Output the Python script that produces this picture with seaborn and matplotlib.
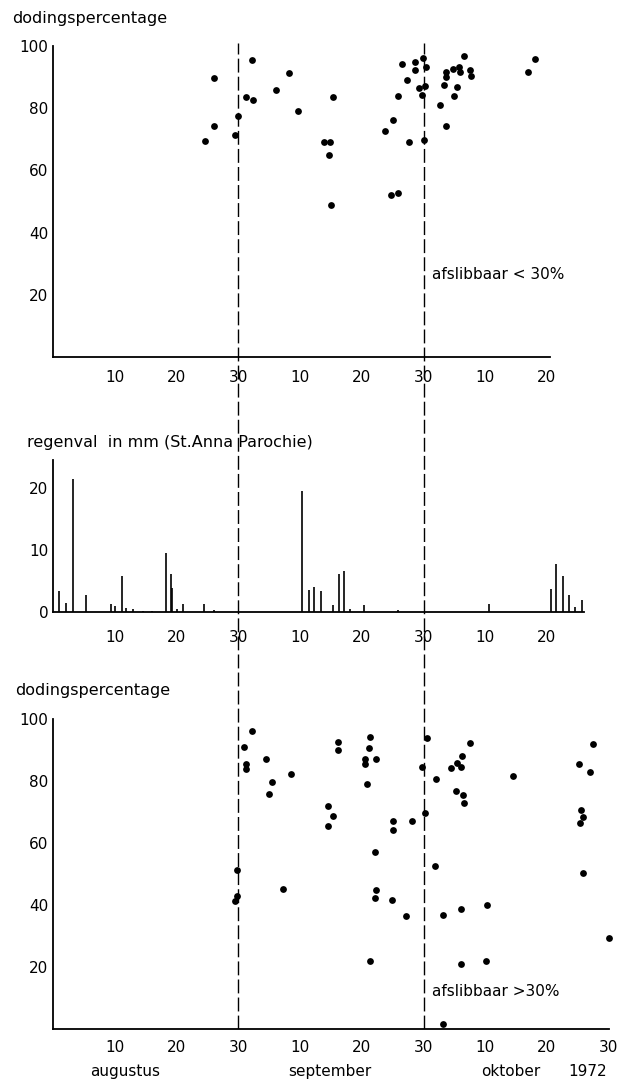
import matplotlib
matplotlib.use("Agg")
import matplotlib.pyplot as plt
import seaborn as sns
import pandas as pd

# x = dag-index: augustus d -> d, september d -> 30 + d, oktober d -> 60 + d
# bovenste paneel: afslibbaar < 30%
top_x = [24.6, 26.0, 26.1, 29.5, 29.9, 31.2, 32.3, 32.4, 36.1, 38.2, 39.6,
         45.4, 43.9, 44.9, 44.7, 45.0, 53.7, 55.0, 54.8, 55.9, 55.8, 56.5,
         57.4, 57.6, 58.6, 58.6, 59.2, 59.9, 59.8, 60.2, 60.4, 60.1, 62.6,
         63.6, 63.6, 63.6, 63.4, 64.7, 65.0, 65.5, 65.7, 65.9, 66.5, 67.6,
         67.7, 77.0, 78.1]
top_y = [69.4, 89.6, 74.4, 71.4, 77.4, 83.6, 95.5, 82.5, 86.0, 91.4, 79.2,
         83.7, 69.0, 69.0, 65.0, 49.0, 72.6, 76.3, 52.2, 52.6, 83.8, 94.1,
         89.2, 69.2, 94.7, 92.3, 86.6, 96.2, 84.2, 87.1, 93.3, 69.8, 81.0,
         74.3, 91.7, 89.9, 87.3, 92.5, 83.9, 86.9, 93.3, 91.7, 96.8, 92.3,
         90.4, 91.7, 95.8]

# middelste paneel: regenval in mm (St. Anna Parochie)
rain_x = [1.0, 2.05, 3.2, 5.3, 9.4, 10.0, 11.2, 11.8, 13.0, 14.5, 16.0,
          18.3, 19.1, 19.3, 20.0, 21.1, 24.5, 26.1,
          40.4, 41.4, 42.2, 43.4, 45.3, 46.3, 47.2, 48.1, 50.3, 55.9,
          70.6, 80.6, 81.5, 82.6, 83.6, 84.5, 85.7]
rain_mm = [3.4, 1.45, 21.5, 2.8, 1.3, 1.0, 5.9, 0.7, 0.5, 0.2, 0.2,
           9.6, 6.1, 3.9, 0.5, 1.4, 1.3, 0.3,
           19.5, 3.6, 4.1, 3.4, 1.1, 6.1, 6.7, 0.6, 1.2, 0.3,
           1.3, 3.8, 7.8, 5.9, 2.8, 0.8, 1.9]

# onderste paneel: afslibbaar > 30%
bot_x = [29.4, 29.8, 29.8, 31.0, 31.2, 31.2, 32.2, 34.5, 35.4, 35.0, 37.2,
         38.5, 44.6, 45.4, 44.5, 46.2, 46.2, 51.3, 51.1, 50.6, 50.6, 52.3,
         50.8, 52.1, 52.3, 52.1, 51.4, 55.0, 55.1, 54.9, 57.1, 58.1, 59.8,
         60.2, 60.6, 62.1, 61.8, 63.2, 63.1, 64.5, 65.5, 66.1, 66.3, 67.5,
         65.2, 66.4, 66.6, 66.1, 66.0, 70.3, 70.1, 74.5, 85.2, 85.5, 85.9,
         85.4, 85.9, 87.0, 87.4, 90.1]
bot_y = [41.3, 42.9, 51.1, 90.9, 85.6, 83.9, 96.2, 87.0, 79.6, 75.8, 45.0,
         82.3, 71.8, 68.5, 65.3, 92.6, 90.1, 94.2, 90.5, 87.1, 85.6, 87.1,
         79.0, 56.9, 44.8, 42.1, 21.8, 66.9, 64.2, 41.6, 36.4, 67.0, 84.5,
         69.6, 93.9, 80.7, 52.6, 36.6, 1.5, 84.2, 85.8, 84.4, 88.0, 92.1,
         76.8, 75.6, 73.0, 38.6, 20.8, 39.9, 21.8, 81.7, 85.6, 70.6, 68.4,
         66.3, 50.3, 82.8, 92.0, 29.1]

day_ticks = [10, 20, 30, 40, 50, 60, 70, 80, 90]
day_labels = ['10', '20', '30', '10', '20', '30', '10', '20', '30']
months = ['augustus', 'september', 'oktober', '1972']
month_pos = [11.7, 44.9, 74.2, 86.5]

sns.set_style('white')
plt.rcParams['font.family'] = ['DejaVu Sans']
plt.rcParams['font.size'] = 11
plt.rcParams['text.color'] = 'black'
plt.rcParams['xtick.color'] = 'black'
plt.rcParams['ytick.color'] = 'black'
plt.rcParams['xtick.labelcolor'] = 'black'
plt.rcParams['ytick.labelcolor'] = 'black'

W, H = 637, 1083
fig = plt.figure(figsize=(W / 100, H / 100), dpi=100)

left = 53 / W
xmax = 92
width = xmax * 6.175 / W


def frac(top_px, bottom_px):
    return [left, 1 - bottom_px / H, width, (bottom_px - top_px) / H]


ax1 = fig.add_axes(frac(46, 357))
ax2 = fig.add_axes(frac(460, 612.3))
ax3 = fig.add_axes(frac(719, 1028.5))

for ax in (ax1, ax2, ax3):
    ax.set_xlim(0, xmax)
    sns.despine(ax=ax)
    for s in ('left', 'bottom'):
        ax.spines[s].set_linewidth(1.3)
        ax.spines[s].set_color('black')
    ax.tick_params(direction='in', length=9, width=1.2, colors='black',
                   labelsize=11)

# top panel
top_df = pd.DataFrame({'dag': top_x, 'doding': top_y})
sns.scatterplot(data=top_df, x='dag', y='doding', ax=ax1, color='black',
                s=24, linewidth=0)
ax1.set_ylim(0, 100)
ax1.set_yticks([20, 40, 60, 80, 100])
ax1.set_xticks(day_ticks[:8])
ax1.set_xticklabels(day_labels[:8])
ax1.tick_params(axis='x', pad=9)
ax1.spines['bottom'].set_bounds(0, 80.5)
ax1.set_xlabel('')
ax1.set_ylabel('')
ax1.text(61.4, 26.4, 'afslibbaar < 30%', fontsize=11, va='center')

# middle panel
ax2.vlines(rain_x, 0, rain_mm, color='black', lw=1.2)
ax2.set_ylim(0, 24.5)
ax2.set_yticks([0, 10, 20])
ax2.set_xticks(day_ticks[:8])
ax2.set_xticklabels(day_labels[:8])
ax2.tick_params(axis='x', length=0, pad=13)
ax2.spines['bottom'].set_bounds(0, 86)

# bottom panel
bot_df = pd.DataFrame({'dag': bot_x, 'doding': bot_y})
sns.scatterplot(data=bot_df, x='dag', y='doding', ax=ax3, color='black',
                s=24, linewidth=0, clip_on=False)
ax3.set_ylim(0, 100)
ax3.set_yticks([20, 40, 60, 80, 100])
ax3.set_xticks(day_ticks)
ax3.set_xticklabels(day_labels)
ax3.tick_params(axis='x', pad=8)
ax3.spines['bottom'].set_bounds(0, 90)
ax3.set_xlabel('')
ax3.set_ylabel('')
ax3.text(61.4, 11.8, 'afslibbaar >30%', fontsize=11, va='center')
for m, p in zip(months, month_pos):
    ax3.text(p, -0.14, m, ha='center', va='center', fontsize=11,
             transform=ax3.get_xaxis_transform())

# titles
fig.text(12 / W, 1 - 18 / H, 'dodingspercentage', fontsize=11.5, va='center')
fig.text(27 / W, 1 - 442 / H, 'regenval  in mm (St.Anna Parochie)',
         fontsize=11.5, va='center')
fig.text(15 / W, 1 - 690 / H, 'dodingspercentage', fontsize=11.5, va='center')

# dashed month boundaries running through all panels
ov = fig.add_axes(frac(43, 1028.5), facecolor='none', zorder=5)
ov.set_xlim(0, xmax)
ov.set_ylim(0, 1)
ov.axis('off')
for xv in (30, 60):
    ov.axvline(xv, color='black', lw=1.0, dashes=(10, 3))

fig.savefig('out.png', dpi=100)
